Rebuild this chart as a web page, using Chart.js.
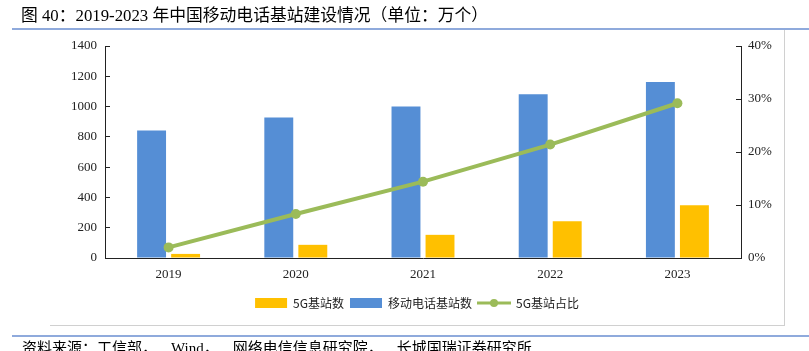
<!DOCTYPE html>
<html>
<head>
<meta charset="utf-8">
<script src="https://cdn.jsdelivr.net/npm/chart.js@4/dist/chart.umd.min.js"></script>
<style>
html,body{margin:0;padding:0;background:#fff;width:809px;height:351px;overflow:hidden;position:relative;}
#title{position:absolute;left:21px;top:6px;font-family:"Liberation Serif","Noto Sans CJK SC",serif;font-size:16.8px;line-height:20px;color:#000;white-space:nowrap;}
#src{position:absolute;left:22px;top:339px;font-family:"Liberation Serif","Noto Sans CJK SC",serif;font-size:15px;line-height:18px;color:#000;white-space:nowrap;}
#src .g{display:inline-block;width:14px;}
.hl{position:absolute;background:#8faadc;}
.gl{position:absolute;background:#d0d0d0;}
#wrap{position:absolute;left:0;top:0;width:809px;height:351px;}
</style>
</head>
<body>
<div id="wrap"><canvas id="c" width="809" height="351"></canvas></div>
<div id="title">图 40：2019-2023 年中国移动电话基站建设情况（单位：万个）</div>
<div class="hl" style="left:12px;top:28px;width:797px;height:1.5px;"></div>
<div class="gl" style="left:784px;top:30px;width:1px;height:295px;"></div>
<div class="gl" style="left:50px;top:325px;width:735px;height:1px;"></div>
<div class="hl" style="left:12px;top:335px;width:797px;height:1.5px;"></div>
<div id="src">资料来源：工信部，<span class="g"></span>Wind，<span class="g"></span>网络电信信息研究院，<span class="g"></span>长城国瑞证券研究所</div>
<script>
const categories = ['2019', '2020', '2021', '2022', '2023'];
const mobileStations = [842, 928, 1001, 1081, 1163];
const fiveGStations = [27, 87, 153, 242, 348];
const fiveGShare = [0.020, 0.083, 0.144, 0.214, 0.292];
const leftTicks = [0, 200, 400, 600, 800, 1000, 1200, 1400];
const rightTicks = [0, 0.1, 0.2, 0.3, 0.4];

const BLUE = '#558ed5';
const YELLOW = '#ffc000';
const GREEN = '#9bbb59';

// legend symbol for the line series
const lineSym = document.createElement('canvas');
lineSym.width = 34; lineSym.height = 10;
(function(){
  const g = lineSym.getContext('2d');
  g.strokeStyle = GREEN; g.lineWidth = 3;
  g.beginPath(); g.moveTo(0,5); g.lineTo(34,5); g.stroke();
  g.fillStyle = GREEN; g.beginPath(); g.arc(17,5,4,0,Math.PI*2); g.fill();
})();

// dataset index -> legend position (yellow, blue, line)
const legendOrder = {2:0, 1:1, 0:2};
const tickFont = {family:'"Liberation Serif", "Times New Roman", serif', size:13};

new Chart(document.getElementById('c'), {
  type: 'bar',
  data: {
    labels: categories,
    datasets: [
      {type:'line', label:'5G基站占比', data: fiveGShare, yAxisID:'y1', borderColor:GREEN, backgroundColor:GREEN,
       borderWidth:4, pointRadius:5, pointBackgroundColor:GREEN, pointBorderWidth:0, tension:0},
      {label:'移动电话基站数', data: mobileStations, backgroundColor: BLUE, yAxisID:'y',
       categoryPercentage:0.535, barPercentage:0.85},
      {label:'5G基站数', data: fiveGStations, backgroundColor: YELLOW, yAxisID:'y',
       categoryPercentage:0.535, barPercentage:0.85}
    ]
  },
  options: {
    responsive:false, animation:false,
    layout:{padding:{left:50, right:25, top:46, bottom:32}},
    plugins:{
      tooltip:{enabled:false},
      legend:{
        position:'bottom',
        labels:{
          usePointStyle:true, pointStyleWidth:32, boxHeight:10, padding:6,
          color:'#222', font:{family:'"Noto Sans CJK SC", sans-serif', size:12},
          generateLabels(chart){
            const items = Chart.defaults.plugins.legend.labels.generateLabels(chart);
            items.forEach(it=>{
              if (it.datasetIndex === 0) { it.pointStyle = lineSym; }
              else { it.pointStyle = 'rect'; it.lineWidth = 0; }
            });
            return items;
          },
          sort:(a,b)=>legendOrder[a.datasetIndex]-legendOrder[b.datasetIndex]
        }
      }
    },
    scales:{
      x:{
        grid:{display:false},
        border:{display:true, color:'#222', width:1},
        ticks:{color:'#222', font:tickFont, padding:1},
        afterFit(s){ s.height = 33; }
      },
      y:{
        position:'left', min:0, max:1400,
        afterBuildTicks(s){ s.ticks = leftTicks.map(v=>({value:v})); },
        grid:{drawOnChartArea:false, drawTicks:true, tickLength:-5, color:'#222'},
        border:{display:true, color:'#222', width:1},
        ticks:{color:'#222', font:tickFont, padding:13, callback:v=>String(v)},
        afterFit(s){ s.width = 55; }
      },
      y1:{
        position:'right', min:0, max:0.4,
        afterBuildTicks(s){ s.ticks = rightTicks.map(v=>({value:v})); },
        grid:{drawOnChartArea:false, drawTicks:true, tickLength:-5, color:'#222'},
        border:{display:true, color:'#222', width:1},
        ticks:{color:'#222', font:tickFont, padding:12, callback:v=>Math.round(v*100)+'%'},
        afterFit(s){ s.width = 43; }
      }
    }
  }
});
</script>
</body>
</html>
